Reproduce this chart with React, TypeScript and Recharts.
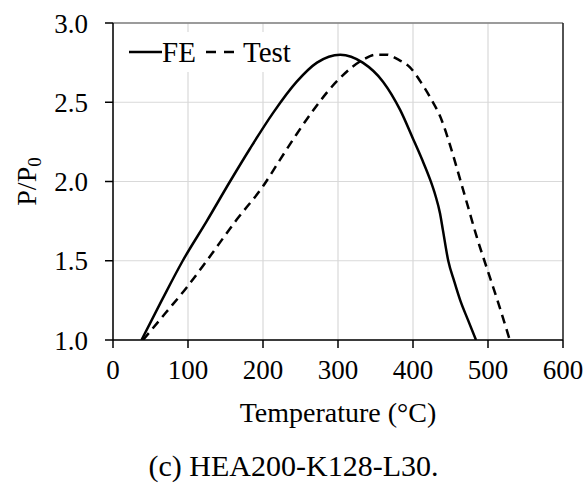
import { CartesianGrid, Line, LineChart, ReferenceLine, XAxis, YAxis } from 'recharts'

const FONT = '"Liberation Serif", "Times New Roman", serif'

// temperature (°C) and P/P0
const feTemp = [38, 65, 93, 125, 156, 183, 213, 245, 272, 303, 333, 360, 383, 400, 412, 423, 430, 436, 440, 447, 455, 463, 473, 484]
const feLoad = [1.0, 1.25, 1.5, 1.75, 2.0, 2.21, 2.43, 2.63, 2.75, 2.8, 2.75, 2.63, 2.45, 2.27, 2.14, 2.01, 1.91, 1.8, 1.69, 1.5, 1.37, 1.25, 1.13, 1.0]

const testTemp = [40, 70, 98, 125, 165, 200, 223, 245, 267, 300, 334, 350, 365, 380, 396, 410, 423, 438, 450, 463, 474, 485, 498, 514, 529]
const testLoad = [1.0, 1.17, 1.33, 1.5, 1.76, 1.97, 2.14, 2.3, 2.45, 2.64, 2.77, 2.8, 2.8, 2.77, 2.72, 2.63, 2.53, 2.39, 2.22, 2.01, 1.83, 1.65, 1.46, 1.23, 1.0]

const xTicks = [0, 100, 200, 300, 400, 500, 600]
const yTicks = [1.0, 1.5, 2.0, 2.5, 3.0]

const feData = feTemp.map((t, i) => ({ t, v: feLoad[i] }))
const testData = testTemp.map((t, i) => ({ t, v: testLoad[i] }))

const tickStyle = { fontSize: 27, fontFamily: FONT, fill: '#000' }

// legend sits inside the plot, top-left; drawn by hand so it takes no layout space
function LegendBox({ x, y }: { x: number; y: number }) {
  return (
    <g transform={`translate(${x} ${y})`}>
      <rect x={-14} y={-20} width={186} height={40} fill="#fff" />
      <line x1={1} y1={0} x2={34} y2={0} stroke="#000" strokeWidth={2.5} />
      <text x={34} y={10} fontFamily={FONT} fontSize={29} fill="#000">FE</text>
      <line x1={78} y1={0} x2={107} y2={0} stroke="#000" strokeWidth={2.5} strokeDasharray="10 8" />
      <text x={115} y={10} fontFamily={FONT} fontSize={29} fill="#000">Test</text>
    </g>
  )
}

function YTitle(props: any) {
  const { viewBox } = props
  const cy = viewBox.y + viewBox.height / 2
  const cx = 30
  return (
    <text x={cx} y={cy} transform={`rotate(-90 ${cx} ${cy})`} textAnchor="middle" dominantBaseline="middle" fontFamily={FONT} fontSize={28} fill="#000">
      P/P<tspan fontSize={19} dy={7}>0</tspan>
    </text>
  )
}

function XTitle(props: any) {
  const { viewBox } = props
  const cx = viewBox.x + viewBox.width / 2
  return (
    <g>
      <text x={cx} y={422} textAnchor="middle" fontFamily={FONT} fontSize={28} fill="#000">
        Temperature (°C)
      </text>
      <text x={293.5} y={476} textAnchor="middle" fontFamily={FONT} fontSize={30} fill="#000">
        (c) HEA200-K128-L30.
      </text>
    </g>
  )
}

export default function App() {
  return (
    <div style={{ position: 'absolute', left: 0, top: 0, width: 587, height: 487, background: '#fff' }}>
      <LineChart width={587} height={487} margin={{ top: 23, right: 24, bottom: 87, left: 0 }}>
        <CartesianGrid stroke="#d9d9d9" strokeWidth={1.2} />
        <XAxis
          type="number"
          dataKey="t"
          domain={[0, 600]}
          ticks={xTicks}
          allowDataOverflow
          height={60}
          stroke="#000"
          strokeWidth={1.5}
          tickSize={8}
          tickMargin={12}
          tick={tickStyle}
          label={<XTitle />}
        />
        <YAxis
          type="number"
          dataKey="v"
          domain={[1, 3]}
          ticks={yTicks}
          allowDataOverflow
          width={113}
          stroke="#000"
          strokeWidth={1.5}
          tickSize={8}
          tickMargin={17}
          tick={tickStyle}
          tickFormatter={(v: number) => v.toFixed(1)}
          label={<YTitle />}
        />
        <ReferenceLine y={3} stroke="#808080" strokeWidth={1.5} />
        <ReferenceLine x={600} stroke="#222" strokeWidth={1.5} />
        <ReferenceLine y={3} stroke="none" label={() => <LegendBox x={128} y={52} />} />
        <Line data={feData} dataKey="v" type="monotone" stroke="#000" strokeWidth={2.5} dot={false} isAnimationActive={false} />
        <Line data={testData} dataKey="v" type="monotone" stroke="#000" strokeWidth={2.5} strokeDasharray="9 6" dot={false} isAnimationActive={false} />
      </LineChart>
    </div>
  )
}
